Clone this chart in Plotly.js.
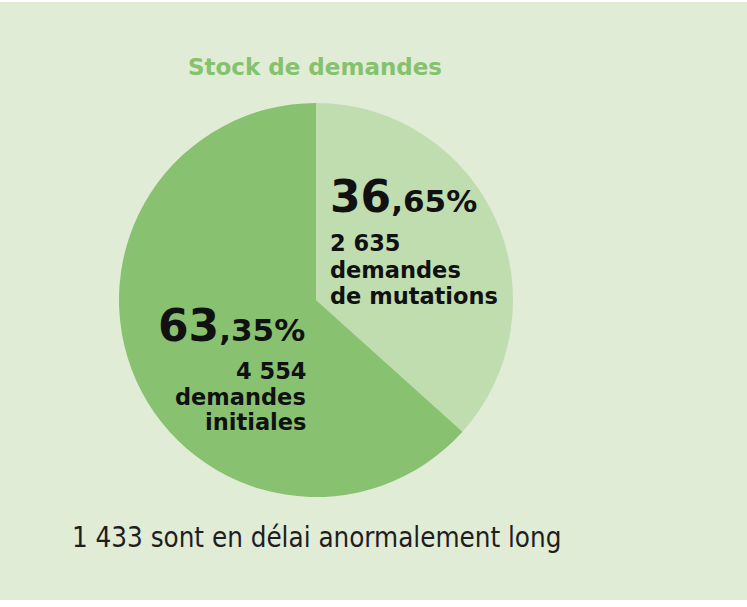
<!DOCTYPE html>
<html>
<head>
<meta charset="utf-8">
<script src="https://cdn.plot.ly/plotly-3.0.1.min.js"></script>
<style>
html,body{margin:0;padding:0;background:#ffffff;}
#chart{position:absolute;left:0;top:2px;width:747px;height:598px;}
</style>
</head>
<body>
<div id="chart"></div>
<script>
const categories = ["demandes de mutations", "demandes initiales"];
const counts = [2635, 4554];
const pctInt = ["36", "63"];
const pctDec = [",65%", ",35%"];
const countLabels = ["2 635", "4 554"];
const labelLines = [["demandes", "de mutations"], ["demandes", "initiales"]];
const colors = ["#c0ddb0", "#88c270"];
const titleText = "Stock de demandes";
const footText = "1 433 sont en délai anormalement long";

const W = 747, H = 598;
const px = x => x / W;
const py = y => 1 - (y - 2) / H;

const trace = {
  type: "pie",
  labels: categories,
  values: counts,
  sort: false,
  direction: "clockwise",
  rotation: 0,
  marker: {colors: colors, line: {width: 0}},
  textinfo: "none",
  hoverinfo: "label+value+percent",
  domain: {x: [px(316 - 197), px(316 + 197)], y: [py(300 + 197), py(300 - 197)]},
  showlegend: false
};

const fontB = "'DejaVu Sans', sans-serif";
const annotations = [
  {text: "<b>" + titleText + "</b>", x: px(315), y: py(67), font: {size: 23, color: "#84c26c", family: fontB}, xanchor: "center", yanchor: "middle"},
  {text: footText, x: px(70), y: py(537), font: {size: 27.5, color: "#1e1e1e", family: "'DejaVu Sans Condensed', 'DejaVu Sans', sans-serif"}, xanchor: "left", yanchor: "middle"},
  {text: "<b><span style='font-size:44px'>" + pctInt[0] + "</span>" + pctDec[0] + "</b>", x: px(328), y: py(196), font: {size: 31, color: "#111", family: fontB}, xanchor: "left", yanchor: "middle"},
  {text: "<b><span style='font-size:44px'>" + pctInt[1] + "</span>" + pctDec[1] + "</b>", x: px(307), y: py(325), font: {size: 31, color: "#111", family: fontB}, xanchor: "right", yanchor: "middle"}
];
const lineY = [[243, 270, 296], [371, 397, 422]];
const lineX = [328, 308];
[0, 1].forEach(i => {
  [countLabels[i]].concat(labelLines[i]).forEach((t, j) => {
    annotations.push({text: "<b>" + t + "</b>", x: px(lineX[i]), y: py(lineY[i][j]), font: {size: 22.5, color: "#111", family: fontB}, xanchor: i === 0 ? "left" : "right", yanchor: "middle"});
  });
});
annotations.forEach(a => Object.assign(a, {xref: "paper", yref: "paper", showarrow: false}));

const layout = {
  width: W, height: H,
  margin: {l: 0, r: 0, t: 0, b: 0},
  paper_bgcolor: "#e0ecd6",
  plot_bgcolor: "#e0ecd6",
  annotations: annotations
};

Plotly.newPlot("chart", [trace], layout, {displayModeBar: false, staticPlot: true});
</script>
</body>
</html>
